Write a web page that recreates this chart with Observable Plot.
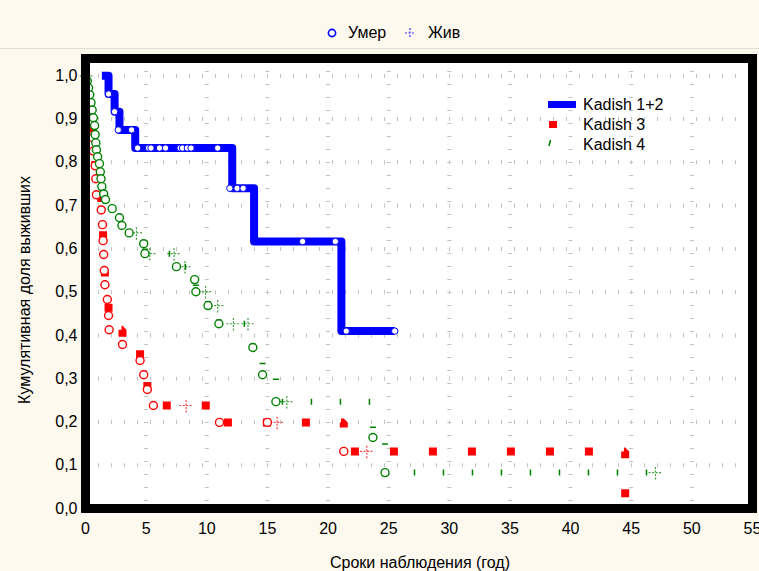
<!DOCTYPE html>
<html>
<head>
<meta charset="utf-8">
<script src="https://cdn.jsdelivr.net/npm/d3@7"></script>
<script src="https://cdn.jsdelivr.net/npm/@observablehq/plot@0.6"></script>
<style>
  html, body { margin: 0; padding: 0; background: #fdf9ee; }
  #wrap { position: relative; width: 759px; height: 571px; background: #fdf9ee; overflow: hidden;
          font-family: "Liberation Sans", Arial, sans-serif; color: #000; }
  #wrap svg.plot { position: absolute; left: 0; top: 0; }
  .lbl { position: absolute; white-space: nowrap; font-size: 16px; line-height: 1; }
  .sw { position: absolute; overflow: visible; }
</style>
</head>
<body>
<div id="wrap"></div>
<script>
// ---------- data ----------
const xTicks = [0, 5, 10, 15, 20, 25, 30, 35, 40, 45, 50, 55];
const yTicks = [0, 0.1, 0.2, 0.3, 0.4, 0.5, 0.6, 0.7, 0.8, 0.9, 1.0];

const seriesNames = ["Kadish 1+2", "Kadish 3", "Kadish 4"];
const statusNames = ["Умер", "Жив"];

// Kadish 1+2 (step curve, level after each time)
const blueTime = [1.35, 1.9, 2.4, 2.8, 4.1, 12.1, 13.9, 21.1, 25.5];
const blueSurv = [1.0, 0.958, 0.917, 0.875, 0.833, 0.74, 0.617, 0.41, 0.41];
// markers on the Kadish 1+2 curve
const blueMarkTime = [1.9, 2.4, 2.7, 3.8, 4.3, 5.2, 5.4, 6.1, 6.6, 7.8, 8.0, 8.4, 8.7, 10.9, 11.9, 12.5, 13.0, 17.9, 20.6, 21.5, 25.5];
const blueMarkSurv = [0.958, 0.917, 0.875, 0.875, 0.833, 0.833, 0.833, 0.833, 0.833, 0.833, 0.833, 0.833, 0.833, 0.833, 0.74, 0.74, 0.74, 0.617, 0.617, 0.41, 0.41];

// Kadish 3
const redTime = [0, 0.1, 0.25, 0.4, 0.6, 0.65, 0.8, 0.85, 0.9, 1.3, 1.4, 1.45, 1.5, 1.55, 1.6, 1.8, 1.9, 1.95, 3.05, 4.5, 4.8, 5.1, 5.6, 11.05, 21.3, 44.5];
const redSurv = [1.0, 0.958, 0.924, 0.89, 0.857, 0.826, 0.792, 0.762, 0.725, 0.69, 0.656, 0.619, 0.587, 0.55, 0.517, 0.483, 0.446, 0.413, 0.379, 0.342, 0.309, 0.275, 0.238, 0.199, 0.132, 0.0];
const redDeathTime = [0.1, 0.25, 0.4, 0.6, 0.65, 0.8, 0.85, 0.9, 1.3, 1.4, 1.45, 1.5, 1.55, 1.6, 1.8, 1.9, 1.95, 3.05, 4.5, 4.8, 5.1, 5.6, 11.05, 15.0, 21.3];
const redDeathSurv = [0.958, 0.924, 0.89, 0.857, 0.826, 0.792, 0.762, 0.725, 0.69, 0.656, 0.619, 0.587, 0.55, 0.517, 0.483, 0.446, 0.413, 0.379, 0.342, 0.309, 0.275, 0.238, 0.199, 0.199, 0.132];
const redCensTime = [8.3, 15.8, 23.2];
const redCensSurv = [0.238, 0.199, 0.132];

// Kadish 4
const greenTime = [0, 0.15, 0.25, 0.35, 0.45, 0.55, 0.65, 0.75, 0.8, 0.85, 0.9, 1.0, 1.15, 1.22, 1.28, 1.35, 1.5, 1.65, 2.2, 2.8, 3.0, 3.6, 4.8, 4.9, 7.5, 9.0, 9.1, 10.1, 11.0, 13.8, 14.6, 15.7, 23.7, 24.7, 47.0];
const greenSurv = [1.0, 0.988, 0.972, 0.956, 0.938, 0.921, 0.903, 0.885, 0.864, 0.845, 0.829, 0.813, 0.797, 0.778, 0.762, 0.744, 0.727, 0.714, 0.693, 0.672, 0.654, 0.637, 0.612, 0.589, 0.559, 0.529, 0.501, 0.469, 0.427, 0.372, 0.309, 0.247, 0.164, 0.083, 0.083];
const greenDeathTime = [0.15, 0.25, 0.35, 0.45, 0.55, 0.65, 0.75, 0.8, 0.85, 0.9, 1.0, 1.15, 1.22, 1.28, 1.35, 1.5, 1.65, 2.2, 2.8, 3.0, 3.6, 4.8, 4.9, 7.5, 9.0, 9.1, 10.1, 11.0, 13.8, 14.6, 15.7, 23.7, 24.7];
const greenDeathSurv = [0.988, 0.972, 0.956, 0.938, 0.921, 0.903, 0.885, 0.864, 0.845, 0.829, 0.813, 0.797, 0.778, 0.762, 0.744, 0.727, 0.714, 0.693, 0.672, 0.654, 0.637, 0.612, 0.589, 0.559, 0.529, 0.501, 0.469, 0.427, 0.372, 0.309, 0.247, 0.164, 0.083];
const greenCensTime = [0.1, 4.2, 5.3, 7.3, 8.2, 9.9, 10.9, 12.2, 13.4, 16.6, 47.0];
const greenCensSurv = [1.0, 0.637, 0.589, 0.589, 0.559, 0.501, 0.469, 0.427, 0.427, 0.247, 0.083];

// ---------- tables ----------
const pts = (T, S) => T.map((t, i) => ({t, s: S[i]}));
const blueLine = pts(blueTime, blueSurv);
const blueMarks = pts(blueMarkTime, blueMarkSurv);
const redLine = pts(redTime, redSurv);
const redDeaths = pts(redDeathTime, redDeathSurv);
const redCens = pts(redCensTime, redCensSurv);
const greenLine = pts(greenTime, greenSurv);
const greenDeaths = pts(greenDeathTime, greenDeathSurv);
const greenCens = pts(greenCensTime, greenCensSurv);

const BLUE = "#0000ff", RED = "#ff0000", GREEN = "#008000";
const fmt = d => d3.format(".1f")(d).replace(".", ",");

const chart = Plot.plot({
  width: 759, height: 571,
  marginLeft: 85, marginRight: 7, marginTop: 58, marginBottom: 63,
  style: { background: "transparent", fontFamily: "'Liberation Sans', Arial, sans-serif", fontSize: "16px", color: "#000" },
  x: { domain: [0, 55] },
  y: { domain: [0, 1.04] },
  marks: [
    Plot.frame({ fill: "white", stroke: "none" }),
    Plot.gridX(xTicks.filter(d => d > 0 && d < 55), { stroke: "#c2c2c2", strokeOpacity: 1, strokeWidth: 4, strokeDasharray: "1,12" }),
    Plot.gridY(yTicks.filter(d => d > 0), { stroke: "#c2c2c2", strokeOpacity: 1, strokeWidth: 4, strokeDasharray: "1,12" }),
    Plot.axisX(xTicks, { tickSize: 0, tickPadding: 14, tickFormat: d => String(d), label: null, fontSize: 16 }),
    Plot.axisY(yTicks, { tickSize: 0, tickPadding: 8, tickFormat: fmt, label: null, fontSize: 16 }),
    // Kadish 4 line: tick pattern
    Plot.line(greenLine, { x: "t", y: "s", curve: "step-after", stroke: GREEN, strokeWidth: 6, strokeDasharray: "1.5,27.5", strokeLinecap: "butt", strokeLinejoin: "miter" }),
    // Kadish 3 line: square pattern
    Plot.line(redLine, { x: "t", y: "s", curve: "step-after", stroke: RED, strokeWidth: 8, strokeDasharray: "8,31", strokeDashoffset: 22, strokeLinecap: "butt", strokeLinejoin: "miter" }),
    // Kadish 1+2 solid thick line
    Plot.line(blueLine, { x: "t", y: "s", curve: "step-after", stroke: BLUE, strokeWidth: 8, strokeLinecap: "butt", strokeLinejoin: "round" }),
    // censored (Жив)
    Plot.dot(greenCens, { x: "t", y: "s", symbol: "plus", r: 4.5, stroke: GREEN, strokeOpacity: 0.75, strokeWidth: 1.2, strokeDasharray: "2,1.5" }),
    Plot.dot(redCens, { x: "t", y: "s", symbol: "plus", r: 4.5, stroke: RED, strokeOpacity: 0.75, strokeWidth: 1.2, strokeDasharray: "2,1.5" }),
    // deaths (Умер)
    Plot.dot(redDeaths, { x: "t", y: "s", r: 4, fill: "white", stroke: RED, strokeWidth: 1.4 }),
    Plot.dot(greenDeaths, { x: "t", y: "s", r: 4, fill: "white", stroke: GREEN, strokeWidth: 1.4 }),
    Plot.dot(blueMarks, { x: "t", y: "s", r: 3.2, fill: "white", stroke: BLUE, strokeWidth: 1 }),
    Plot.frame({ stroke: "black", strokeWidth: 9 })
  ]
});
chart.classList.add("plot");
const wrap = document.getElementById("wrap");
wrap.appendChild(chart);

// ---------- legends and titles (HTML overlay) ----------
function addLabel(text, left, top, extra) {
  const d = document.createElement("div");
  d.className = "lbl";
  d.textContent = text;
  d.style.left = left + "px";
  d.style.top = top + "px";
  if (extra) Object.assign(d.style, extra);
  wrap.appendChild(d);
  return d;
}
function addSwatch(svgInner, left, top, w, h) {
  const ns = "http://www.w3.org/2000/svg";
  const s = document.createElementNS(ns, "svg");
  s.setAttribute("class", "sw");
  s.setAttribute("width", w); s.setAttribute("height", h);
  s.style.left = left + "px"; s.style.top = top + "px";
  s.innerHTML = svgInner;
  wrap.appendChild(s);
}
// top legend
addSwatch(`<circle cx="6" cy="6" r="3.6" fill="white" stroke="${BLUE}" stroke-width="1.6"/>`, 326, 27, 12, 12);
addLabel(statusNames[0], 348, 25);
addSwatch(`<path d="M6,1V11M1,6H11" stroke="${BLUE}" stroke-width="1.2" stroke-dasharray="2,1.5" stroke-opacity="0.8" fill="none"/>`, 404, 27, 12, 12);
addLabel(statusNames[1], 428, 25);
// faint separator under the top legend
const sep = document.createElement("div");
Object.assign(sep.style, { position: "absolute", left: "0px", top: "48px", width: "759px", height: "1px", background: "#e2ded4" });
wrap.appendChild(sep);

// series legend (inside plot)
addSwatch(`<rect x="0" y="0" width="28" height="7" fill="${BLUE}"/>`, 548, 101, 28, 7);
addLabel(seriesNames[0], 583, 97);
addSwatch(`<rect x="0" y="0" width="8" height="7" fill="${RED}"/>`, 549, 121, 8, 7);
addLabel(seriesNames[1], 583, 117);
addSwatch(`<path d="M1,6L2.5,0" stroke="${GREEN}" stroke-width="1.5" fill="none"/>`, 548, 140, 4, 6);
addLabel(seriesNames[2], 583, 137);

// axis titles
addLabel("Сроки наблюдения (год)", 420, 563, { transform: "translate(-50%,-50%)" });
addLabel("Кумулятивная доля выживших", 25, 290, { transform: "translate(-50%,-50%) rotate(-90deg)" });
</script>
</body>
</html>
